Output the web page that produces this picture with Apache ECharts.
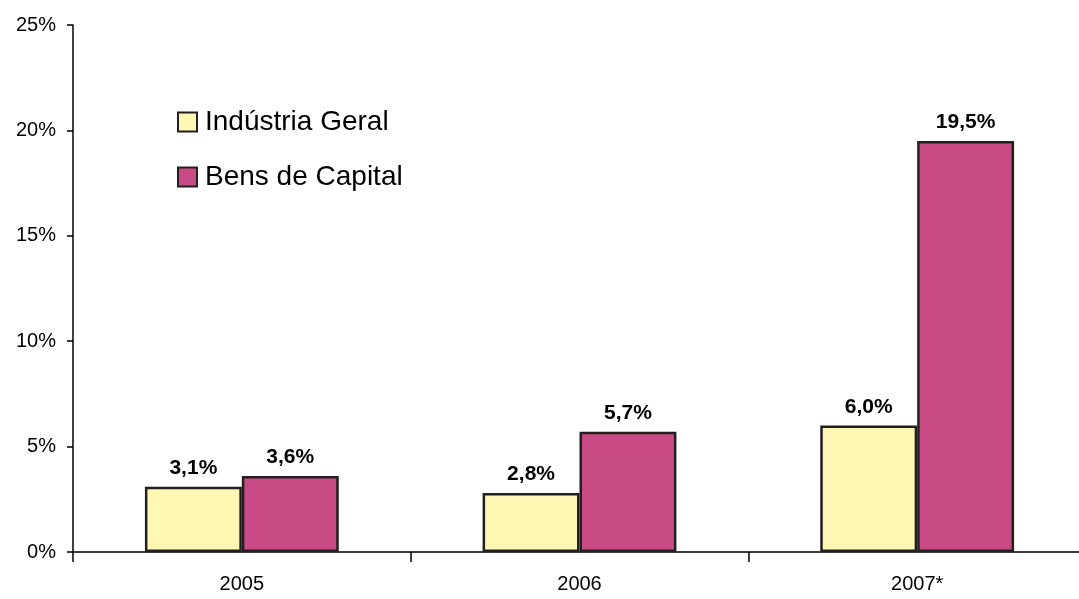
<!DOCTYPE html>
<html>
<head>
<meta charset="utf-8">
<script src="https://cdn.jsdelivr.net/npm/echarts@6/dist/echarts.min.js"></script>
<style>
  html, body { margin: 0; padding: 0; background: #fff; overflow: hidden; }
  #chart { width: 1086px; height: 599px; }
</style>
</head>
<body>
<div id="chart"></div>
<script>
// dados
const anos = ["2005", "2006", "2007*"];
const industriaGeral = [3.1, 2.8, 6.0];
const bensCapital = [3.6, 5.7, 19.5];
const yTicks = [0, 5, 10, 15, 20, 25];

const fmt = (v) => v.toFixed(1).replace(".", ",") + "%";

// o eixo x continua um pouco além da borda direita
const chart = echarts.init(document.getElementById("chart"));
chart.setOption({
  animation: false,
  textStyle: { fontFamily: "Liberation Sans, Arial, sans-serif" },
  grid: { left: 73, right: 0, top: 25, bottom: 47 },
  legend: {
    orient: "vertical",
    left: 172,
    top: 103,
    itemGap: 27,
    itemWidth: 19,
    itemHeight: 19,
    icon: "rect",
    textStyle: { fontSize: 28, lineHeight: 28, color: "#000", padding: [0, 0, 0, 3] },
    data: ["Indústria Geral", "Bens de Capital"]
  },
  xAxis: {
    type: "category",
    data: anos,
    axisLine: { lineStyle: { color: "#000", width: 1.5 } },
    axisTick: { show: true, inside: false, length: 10, lineStyle: { color: "#000", width: 1.5 } },
    axisLabel: { color: "#000", fontSize: 20, margin: 22 }
  },
  yAxis: {
    type: "value",
    min: yTicks[0],
    max: yTicks[yTicks.length - 1],
    interval: 5,
    splitLine: { show: false },
    axisLine: { show: true, lineStyle: { color: "#000", width: 1.5 } },
    axisTick: { show: true, length: 6, lineStyle: { color: "#000", width: 1.5 } },
    axisLabel: { color: "#000", fontSize: 20, margin: 17, formatter: (v) => v + "%" }
  },
  series: [
    {
      name: "Indústria Geral",
      type: "bar",
      data: industriaGeral,
      barGap: "0%",
      barCategoryGap: "42.6%",
      itemStyle: { color: "#FFF7B4", borderColor: "#231F20", borderWidth: 2.5 },
      label: {
        show: true, position: "top", distance: 8,
        fontSize: 21, fontWeight: "bold", color: "#000",
        formatter: (p) => fmt(p.value)
      }
    },
    {
      name: "Bens de Capital",
      type: "bar",
      data: bensCapital,
      itemStyle: { color: "#C84B85", borderColor: "#231F20", borderWidth: 2.5 },
      label: {
        show: true, position: "top", distance: 8,
        fontSize: 21, fontWeight: "bold", color: "#000",
        formatter: (p) => fmt(p.value)
      }
    }
  ]
});
</script>
</body>
</html>
